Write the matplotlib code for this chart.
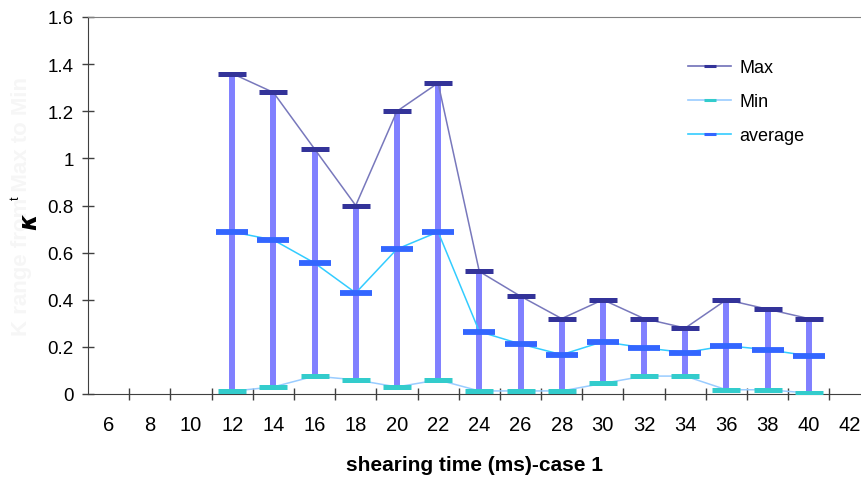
import matplotlib
matplotlib.use("Agg")
import matplotlib.pyplot as plt
from matplotlib.lines import Line2D
from matplotlib.ticker import FuncFormatter

plt.rcParams['font.family'] = ['Liberation Sans', 'DejaVu Sans']

categories = [6, 8, 10, 12, 14, 16, 18, 20, 22, 24, 26, 28, 30, 32, 34, 36, 38, 40, 42]
data_times = [12, 14, 16, 18, 20, 22, 24, 26, 28, 30, 32, 34, 36, 38, 40]
max_vals = [1.36, 1.28, 1.04, 0.80, 1.20, 1.32, 0.52, 0.415, 0.32, 0.40, 0.32, 0.28, 0.40, 0.36, 0.32]
min_vals = [0.012, 0.03, 0.076, 0.06, 0.03, 0.06, 0.013, 0.013, 0.013, 0.045, 0.076, 0.076, 0.018, 0.018, 0.004]
avg_vals = [0.688, 0.654, 0.556, 0.429, 0.615, 0.688, 0.265, 0.212, 0.167, 0.222, 0.196, 0.176, 0.205, 0.188, 0.162]
yticks = [0, 0.2, 0.4, 0.6, 0.8, 1.0, 1.2, 1.4, 1.6]

W, H = 862, 485
fig = plt.figure(figsize=(W / 100, H / 100), dpi=100)
ax = fig.add_axes([88 / W, 1 - 395 / H, (W - 88) / W + 0.01, (395 - 18) / H])

xpos = [categories.index(t) for t in data_times]

ax.vlines(xpos, min_vals, max_vals, colors='#8080ff', lw=4.3, zorder=2)
ax.plot(xpos, max_vals, color='#7878bc', lw=1.1, zorder=3)
ax.plot(xpos, min_vals, color='#99ccff', lw=1.1, zorder=3)
ax.plot(xpos, avg_vals, color='#33ccff', lw=1.1, zorder=3)
ax.plot(xpos, max_vals, ls='none', marker='_', ms=19.5, mew=3.6, color='#333399', zorder=4)
ax.plot(xpos, min_vals, ls='none', marker='_', ms=19.5, mew=3.6, color='#33cccc', zorder=4)
ax.plot(xpos, avg_vals, ls='none', marker='_', ms=23, mew=4.2, color='#3366ff', zorder=4)

ax.set_xlim(-0.5, len(categories) - 0.5)
ax.set_ylim(0, 1.6)
ax.set_xticks(range(len(categories)))
ax.set_xticklabels([str(c) for c in categories], fontsize=14.5)
ax.set_xticks([i - 0.5 for i in range(1, len(categories) + 1)], minor=True)
ax.tick_params(axis='x', which='major', length=0, pad=15)
ax.tick_params(axis='x', which='minor', direction='inout', length=8.6, width=1, color='#404040')
ax.set_yticks(yticks)
ax.yaxis.set_major_formatter(FuncFormatter(lambda v, p: f"{v:g}"))
ax.tick_params(axis='y', direction='inout', length=8.6, width=1, color='#404040', labelsize=13.5, pad=6)

ax.spines['right'].set_visible(False)
ax.spines['top'].set_color('#808080')
ax.spines['left'].set_color('#404040')
ax.spines['bottom'].set_color('#404040')

handles = [
    Line2D([], [], color='#7070b8', lw=1.2, marker='_', ms=9, mew=2.2, mec='#333399'),
    Line2D([], [], color='#99ccff', lw=1.2, marker='_', ms=9, mew=2.2, mec='#33cccc'),
    Line2D([], [], color='#33ccff', lw=1.2, marker='_', ms=9, mew=2.2, mec='#3366ff'),
]
fig.legend(handles, ['Max', 'Min', 'average'], loc='upper left',
           bbox_to_anchor=(688 / W, 1 - 60 / H), frameon=False, fontsize=13,
           handlelength=2.4, handletextpad=0.45, labelspacing=0.95, borderpad=0,
           borderaxespad=0)

fig.text(22 / W, 1 - 207 / H, 'K range from Max to Min', rotation=90, color='#f6f6f6',
         fontsize=16, fontweight='bold', ha='center', va='center', zorder=0)
fig.text(29 / W, 1 - 222 / H, 'κ', rotation=90, fontsize=17, fontweight='bold',
         style='italic', family='DejaVu Sans', ha='center', va='center')
fig.text(16 / W, 1 - 198 / H, 't', rotation=90, fontsize=9, ha='center', va='center')

fig.text(475 / W, 1 - 466 / H, 'shearing time (ms)-case 1', fontsize=15,
         fontweight='bold', ha='center', va='center')

fig.savefig('out.png', dpi=100)
